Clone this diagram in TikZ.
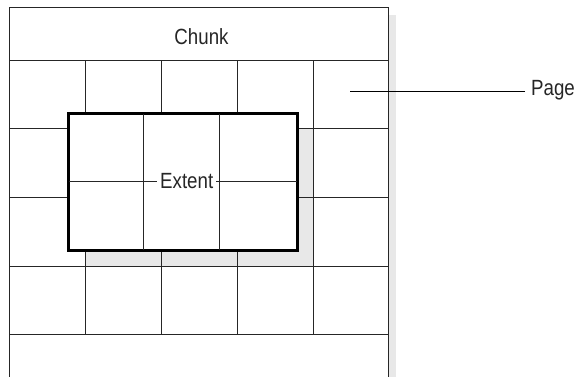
\documentclass[tikz,border=0pt]{standalone}
\usepackage{fontspec}
\setmainfont{Liberation Sans}[FakeStretch=0.85]
\usetikzlibrary{calc}
\begin{document}
\begin{tikzpicture}[x=1pt,y=-1pt,
  gridline/.style={line width=1pt,draw=black!85},
  extentbox/.style={draw=black,line width=2.4pt,fill=white},
  lbl/.style={font=\fontsize{22}{22}\selectfont,text=black!85,inner sep=0pt}]
\useasboundingbox (0,0) rectangle (576,377);
% shadows
\fill[black!9] (388,15) rectangle (396,377);
\fill[black!9] (85,129) rectangle (313,266);
% chunk outline and header
\draw[gridline] (9,377) -- (9,8) -- (388,8) -- (388,377);
\draw[gridline] (9,61) -- (388,61);
% page grid
\foreach \yy in {129,198,266,334} \draw[gridline] (9,\yy) -- (388,\yy);
\foreach \xx in {85,161,237,313} \draw[gridline] (\xx,61) -- (\xx,334);
\node[lbl,anchor=base] (chunk) at (201.5,45) {Chunk};
% extent
\node[extentbox,minimum width=228pt,minimum height=136pt,inner sep=0pt] (ext) at (183,182) {};
\draw[gridline] ($(ext.north west)+(76,0)$) -- ($(ext.south west)+(76,0)$);
\draw[gridline] ($(ext.north west)+(152,0)$) -- ($(ext.south west)+(152,0)$);
\draw[gridline] (ext.west) -- (ext.east);
\draw[extentbox,fill=none] (ext.north west) rectangle (ext.south east);
\node[lbl,fill=white,inner xsep=3pt,inner ysep=1pt,anchor=base west] (extlabel) at (157,188.3) {Extent};
% page label
\node[lbl,anchor=base west] (page) at (531,95.3) {Page};
\coordinate (pagept) at (350,92);
\draw[line width=1pt] (page.west |- pagept) ++(-6,0) -- (pagept);
\end{tikzpicture}
\end{document}
